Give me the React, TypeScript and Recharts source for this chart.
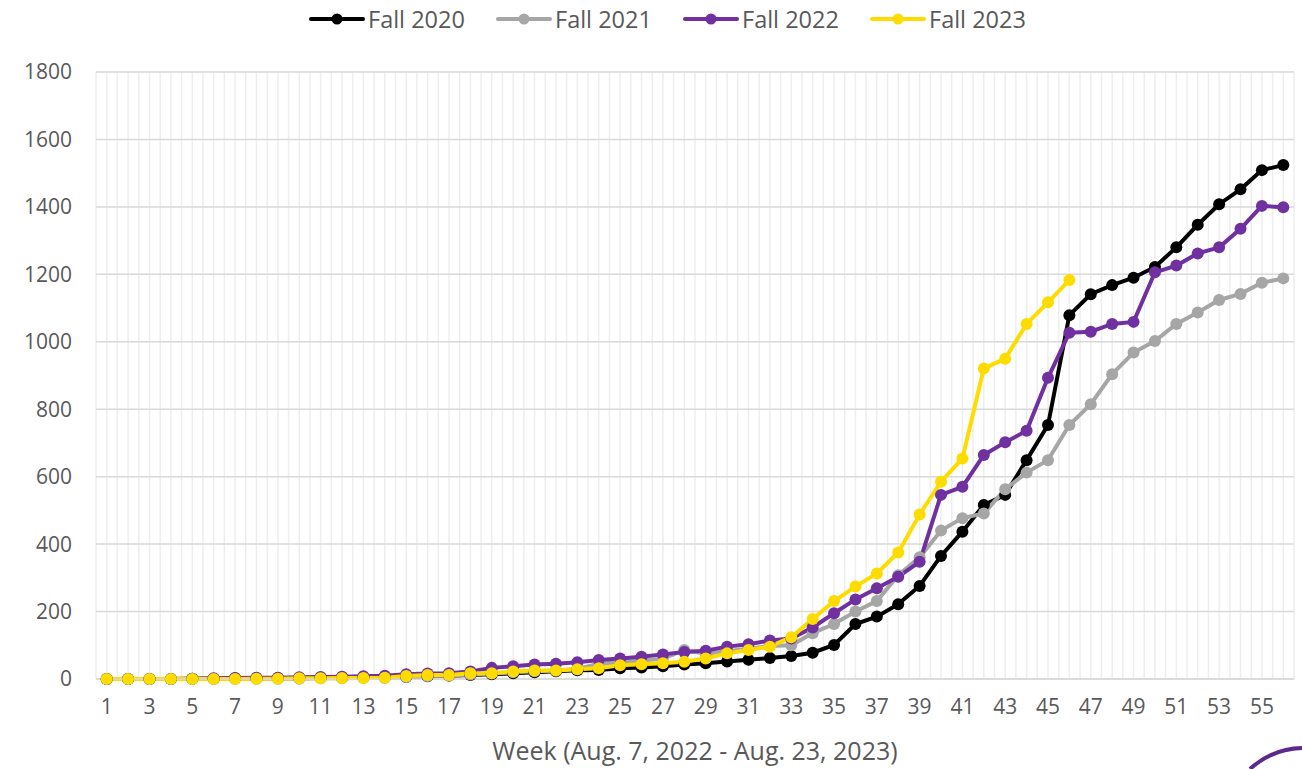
import React from "react";
import {
  LineChart,
  Line,
  XAxis,
  YAxis,
  CartesianGrid,
  Legend,
} from "recharts";

// week numbers on the x axis
const weeks = [
  "1", "2", "3", "4", "5", "6", "7", "8", "9", "10",
  "11", "12", "13", "14", "15", "16", "17", "18", "19", "20",
  "21", "22", "23", "24", "25", "26", "27", "28", "29", "30",
  "31", "32", "33", "34", "35", "36", "37", "38", "39", "40",
  "41", "42", "43", "44", "45", "46", "47", "48", "49", "50",
  "51", "52", "53", "54", "55", "56",
];

const fall2020 = [
  0, 0, 0, 0, 1, 1, 2, 2, 3, 3, 4, 5, 5, 6,
  6, 8, 10, 12, 14, 17, 20, 23, 26, 27,
  32, 34, 38, 43, 47, 52, 57, 62, 68, 78,
  101, 163, 185, 222, 276, 365, 437, 516, 546, 649,
  753, 1079, 1141, 1168, 1190, 1222, 1280, 1347, 1408, 1452,
  1509, 1524,
];

const fall2021 = [
  0, 0, 0, 0, 0, 0, 1, 1, 1, 1, 2, 2, 3, 3,
  6, 9, 10, 13, 16, 20, 23, 25, 30, 45,
  50, 55, 60, 86, 75, 82, 90, 98, 100, 136,
  163, 200, 231, 308, 361, 440, 477, 491, 563, 612,
  649, 753, 815, 904, 968, 1002, 1053, 1087, 1124, 1142,
  1175, 1188,
];

const fall2022 = [
  0, 0, 0, 0, 1, 2, 3, 4, 4, 5, 6, 7, 8, 10,
  14, 16, 17, 22, 33, 38, 43, 45, 50, 56,
  61, 66, 73, 80, 84, 96, 103, 114, 120, 153,
  195, 236, 269, 303, 348, 546, 570, 664, 702, 736,
  893, 1027, 1030, 1053, 1059, 1206, 1226, 1262, 1280, 1335,
  1403, 1399,
];

const fall2023 = [
  0, 0, 0, 0, 0, 0, 0, 1, 1, 2, 2, 3, 3, 4,
  9, 12, 12, 17, 17, 22, 25, 25, 29, 32,
  41, 44, 47, 51, 61, 76, 86, 96, 124, 178,
  231, 274, 313, 375, 488, 585, 654, 921, 950, 1053,
  1117, 1183,
];

const yTicks = [0, 200, 400, 600, 800, 1000, 1200, 1400, 1600, 1800];

const series = [
  { key: "fall2020", name: "Fall 2020", color: "#000000" },
  { key: "fall2021", name: "Fall 2021", color: "#a6a6a6" },
  { key: "fall2022", name: "Fall 2022", color: "#7030a0" },
  { key: "fall2023", name: "Fall 2023", color: "#ffdc00" },
];

const data = weeks.map((w, i) => ({
  week: w,
  fall2020: fall2020[i] ?? null,
  fall2021: fall2021[i] ?? null,
  fall2022: fall2022[i] ?? null,
  fall2023: fall2023[i] ?? null,
}));

const FONT = "'Open Sans', 'Liberation Sans', sans-serif";
const TEXT = "#595959";

const LegendBox = () => (
  <div style={{ height: 72, width: 1302, position: "relative" }}>
    <div
      style={{
        display: "flex",
        paddingLeft: 309,
        height: 38,
        alignItems: "center",
      }}
    >
      {series.map((s) => (
        <div
          key={s.key}
          style={{ width: 187, display: "flex", alignItems: "center" }}
        >
          <svg width={56} height={14} style={{ display: "block" }}>
            <line
              x1={2}
              y1={7}
              x2={54}
              y2={7}
              stroke={s.color}
              strokeWidth={4}
              strokeLinecap="round"
            />
            <circle cx={28} cy={7} r={5.5} fill={s.color} />
          </svg>
          <span
            style={{
              marginLeft: 3,
              fontFamily: FONT,
              fontSize: 23.5,
              color: TEXT,
              lineHeight: "26px",
            }}
          >
            {s.name}
          </span>
        </div>
      ))}
    </div>
  </div>
);

export default function App() {
  return (
    <div style={{ position: "absolute", left: 0, top: 0, width: 1302, height: 769, background: "#fff" }}>
      <LineChart
        width={1302}
        height={769}
        data={data}
        margin={{ top: 0, right: 8, bottom: 0, left: 0 }}
      >
        <CartesianGrid
          horizontal={false}
          stroke="#eeeeee"
          strokeWidth={1.5}
          verticalCoordinatesGenerator={({ offset }: any) => {
            const step = offset.width / (weeks.length * 2);
            return Array.from(
              { length: weeks.length * 2 + 1 },
              (_, i) => offset.left + i * step
            );
          }}
        />
        <CartesianGrid vertical={false} stroke="#d9d9d9" strokeWidth={1.5} />
        <Legend
          verticalAlign="top"
          align="left"
          wrapperStyle={{ left: 0, top: 0, width: 1302 }}
          content={() => <LegendBox />}
        />
        <XAxis
          dataKey="week"
          interval={1}
          height={90}
          padding={{ left: 10.7, right: 10.7 }}
          tickLine={false}
          tickSize={0}
          tickMargin={20}
          axisLine={{ stroke: "#d9d9d9", strokeWidth: 1.5 }}
          tick={{ fill: TEXT, fontSize: 21, fontFamily: FONT }}
          label={{
            value: "Week (Aug. 7, 2022 - Aug. 23, 2023)",
            position: "insideBottom",
            offset: 9,
            fill: TEXT,
            fontSize: 25,
            fontFamily: FONT,
          }}
        />
        <YAxis
          width={96}
          domain={[0, 1800]}
          ticks={yTicks}
          tickLine={false}
          tickSize={0}
          tickMargin={24}
          axisLine={false}
          tick={{ fill: TEXT, fontSize: 21, fontFamily: FONT }}
        />
        {series.map((s) => (
          <Line
            key={s.key}
            dataKey={s.key}
            name={s.name}
            stroke={s.color}
            strokeWidth={4}
            dot={{ r: 6, fill: s.color, stroke: s.color, strokeWidth: 0 }}
            activeDot={false}
            isAnimationActive={false}
            connectNulls={false}
          />
        ))}
      </LineChart>
      <svg
        width={80}
        height={40}
        style={{ position: "absolute", left: 1222, top: 729 }}
      >
        <path
          d="M 28 40 A 80 80 0 0 1 80 19"
          fill="none"
          stroke="#5b2a8c"
          strokeWidth={4}
        />
      </svg>
    </div>
  );
}
